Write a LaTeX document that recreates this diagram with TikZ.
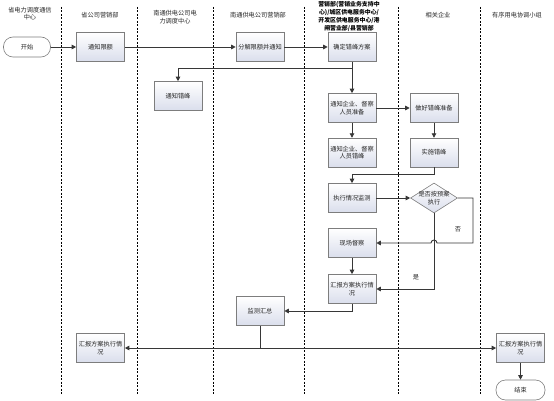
\documentclass[tikz,border=0pt]{standalone}
\usepackage{fontspec}
\setmainfont{Noto Sans CJK SC}
\usetikzlibrary{positioning,arrows.meta,shapes.geometric}

\definecolor{boxline}{RGB}{125,125,125}
\definecolor{boxshade}{RGB}{218,222,236}
\definecolor{wire}{RGB}{55,55,55}

\begin{document}
\begin{tikzpicture}[
x=1pt, y=-1pt,
>={Triangle[length=4.5pt,width=4.5pt]},
every node/.style={font=\fontsize{6.2}{7.6}\selectfont, text=black!85, align=center},
box/.style={draw=boxline, line width=0.6pt, top color=white, bottom color=boxshade,
minimum width=48pt, minimum height=29pt, inner sep=1pt},
term/.style={draw=boxline, line width=0.6pt, fill=white, rounded corners=9.5pt,
minimum width=47pt, minimum height=20pt, inner sep=1pt},
decide/.style={diamond, draw=boxline, line width=0.6pt, top color=white, bottom color=boxshade,
minimum width=47pt, minimum height=30pt, inner sep=0pt},
lane/.style={draw=black, line width=0.7pt, dash pattern=on 2pt off 1.5pt},
conn/.style={draw=wire, line width=0.9pt},
hdr/.style={font=\fontsize{6.2}{7.6}\selectfont}
]

\useasboundingbox (0,0) rectangle (554,401);

% lanes
\foreach \lx in {61,137,213,304,398,480}
  \draw[lane] (\lx,7) -- (\lx,395);

\node[hdr] (h1) at (30,13.5) {省电力调度通信\\中心};
\node[hdr] (h2) at (100,15) {省公司营销部};
\node[hdr] (h3) at (175,17) {南通供电公司电\\力调度中心};
\node[hdr] (h4) at (258,15) {南通供电公司营销部};
\node[hdr, font=\fontsize{5.9}{7.7}\selectfont\bfseries, text=black] (h5) at (349,16.5)
{营销部(营销业务支持中\\心)/城区供电服务中心/\\开发区供电服务中心/港\\闸营业部/县营销部};
\node[hdr] (h6) at (438,15) {相关企业};
\node[hdr] (h7) at (517,15) {有序用电协调小组};

% nodes
\node[term] (start) at (27,47) {开始};
\node[box] (quota) at (100.5,47) {通知限额};
\node[box] (split) at (260,47) {分解限额并通知};
\node[box] (plan) at (352,47) {确定错峰方案};
\node[box] (notify) at (178,96) {通知错峰};
\node[box] (prep) at (352,108) {通知企业、督察\\人员准备};
\node[box] (ready) at (434,108) {做好错峰准备};
\node[box, below=15pt of prep] (peak) {通知企业、督察\\人员错峰};
\node[box, below=15pt of ready] (act) {实施错峰};
\node[box] (watch) at (352,198) {执行情况监测};
\node[decide, label={[align=center]center:是否按预案\\执行}] (check) at (434,198) {};
\node[box] (visit) at (352,243) {现场督察};
\node[box] (report) at (352,289) {汇报方案执行情\\况};
\node[box] (sum) at (260,311) {监测汇总};
\node[box] (repa) at (100.5,348) {汇报方案执行情\\况};
\node[box] (repb) at (520.5,348) {汇报方案执行情\\况};
\node[term, minimum width=49pt] (stop) at (520.5,390) {结束};

\node (nolbl) at (458,229) {否};
\node (yeslbl) at (416,277) {是};

% connectors
\draw[conn,->] (start) -- (quota);
\draw[conn,->] (quota) -- (split);
\draw[conn,->] (split) -- (plan);
\draw[conn,->] (plan) -- (prep);
\coordinate (fork1) at (352,68);
\draw[conn,->] (fork1) -| (notify.north);
\draw[conn,->] (prep) -- (ready);
\draw[conn,->] (prep) -- (peak);
\draw[conn,->] (ready) -- (act);
\draw[conn,->] (act.south) -- ++(0,7) -| (watch.north);
\draw[conn,->] (watch) -- (check);
\coordinate (noturn) at (473,243);
\draw[conn,->] (check.east) -| (noturn) -- ++(-36,0)
  arc[start angle=0, end angle=-180, radius=3] -- (visit.east);
\draw[conn,->] (check.south) |- (report.east);
\draw[conn,->] (visit) -- (report);
\draw[conn,->] (report.south) |- (sum.east);
\coordinate (fork2) at (260,348);
\draw[conn] (sum) -- (fork2);
\draw[conn,->] (fork2) -- (repa);
\draw[conn,->] (fork2) -- (repb);
\draw[conn,->] (repb) -- (stop);

\end{tikzpicture}
\end{document}
